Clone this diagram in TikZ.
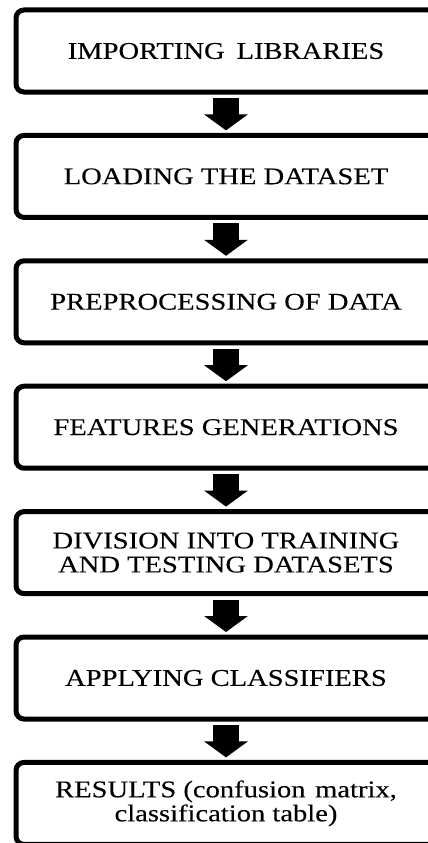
\documentclass[tikz,border=0pt]{standalone}
\usepackage{fontspec}
\setmainfont{Liberation Serif}[FakeStretch=1.19,FakeBold=0.15]
\usetikzlibrary{arrows.meta}
\tikzset{
  stepbox/.style={draw=black, line width=5pt, rounded corners=8pt,
    minimum width=420pt, minimum height=82pt, align=center, inner sep=0pt,
    font=\fontsize{24}{24}\selectfont},
  flowarrow/.style={draw=black, line width=26pt,
    -{Triangle[length=16pt,width=43pt]}, shorten <=3.5pt, shorten >=2.5pt}
}
\begin{document}
\begin{tikzpicture}[x=1pt,y=-1pt]
\useasboundingbox (0,0) rectangle (428,843);
\clip (0,0) rectangle (428,843);
\fill[white] (0,0) rectangle (428,843);
\node[stepbox] (b1) at (226,51) {IMPORTING\hspace{0.5em}LIBRARIES};
\node[stepbox] (b2) at (226,176.4) {LOADING THE DATASET};
\node[stepbox] (b3) at (226,301.8) {PREPROCESSING OF DATA};
\node[stepbox] (b4) at (226,427.2) {FEATURES GENERATIONS};
\node[stepbox] (b5) at (226,552.6) {DIVISION INTO TRAINING\\AND TESTING DATASETS};
\node[stepbox] (b6) at (226,678) {APPLYING CLASSIFIERS};
\node[stepbox] (b7) at (226,803.4) {RESULTS (confusion\hspace{0.4em}matrix,\\classification table)};
\draw[flowarrow] (b1.south) -- (b2.north);
\draw[flowarrow] (b2.south) -- (b3.north);
\draw[flowarrow] (b3.south) -- (b4.north);
\draw[flowarrow] (b4.south) -- (b5.north);
\draw[flowarrow] (b5.south) -- (b6.north);
\draw[flowarrow] (b6.south) -- (b7.north);
\end{tikzpicture}
\end{document}
